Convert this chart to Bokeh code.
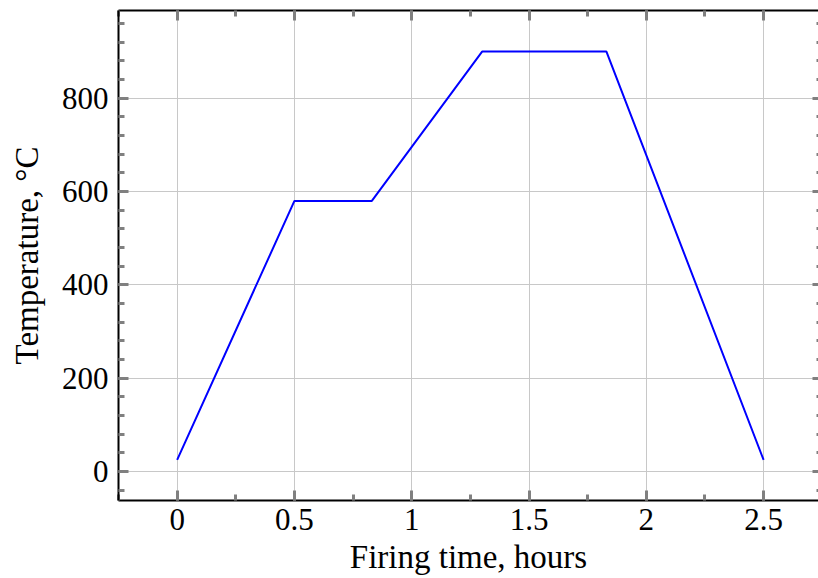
from bokeh.plotting import figure
from bokeh.models import LinearAxis, SingleIntervalTicker, CustomJSTickFormatter, Range1d
from bokeh.embed import file_html
from bokeh.resources import INLINE

# Kiln firing schedule: time in hours, temperature in degrees Celsius
time_h = [0.0, 0.5, 0.83, 1.3, 1.83, 2.5]
temp_c = [25, 580, 580, 900, 900, 25]

x_tick_interval = 0.5
y_tick_interval = 200

FONT = "Liberation Serif"
TICK_COLOR = "#808080"

p = figure(
    width=818, height=578,
    x_range=Range1d(-0.25, 2.734), y_range=Range1d(-62, 988),
    output_backend="svg", toolbar_location=None,
    x_axis_location=None, y_axis_location=None,
    min_border_left=118, min_border_right=0,
    min_border_top=10, min_border_bottom=78,
)
p.outline_line_color = None
p.background_fill_color = "white"
p.border_fill_color = "white"

xticker = SingleIntervalTicker(interval=x_tick_interval, num_minor_ticks=2)
yticker = SingleIntervalTicker(interval=y_tick_interval, num_minor_ticks=5)
fmt = CustomJSTickFormatter(code="return String(Math.round(tick * 100) / 100);")
blank = CustomJSTickFormatter(code="return '';")


def style_axis(ax, labels=True, line=True):
    ax.axis_line_color = "black" if line else None
    ax.axis_line_width = 2
    ax.major_tick_line_color = TICK_COLOR
    ax.minor_tick_line_color = TICK_COLOR
    ax.major_tick_line_width = 3
    ax.minor_tick_line_width = 3
    ax.major_tick_in = 10
    ax.major_tick_out = 0
    ax.minor_tick_in = 6
    ax.minor_tick_out = 0
    if labels:
        ax.major_label_text_font = FONT
        ax.major_label_text_font_size = "31px"
        ax.major_label_text_color = "black"
        ax.axis_label_text_font = FONT
        ax.axis_label_text_font_size = "33px"
        ax.axis_label_text_font_style = "normal"
        ax.axis_label_text_color = "black"
    else:
        ax.formatter = blank
        ax.major_label_standoff = 0


bottom = LinearAxis(ticker=xticker, formatter=fmt, axis_label="Firing time, hours")
style_axis(bottom)
bottom.major_label_standoff = 8
bottom.axis_label_standoff = 6
p.add_layout(bottom, "below")

left = LinearAxis(ticker=yticker, formatter=fmt, axis_label="Temperature, °C")
style_axis(left)
left.major_label_standoff = 10
left.axis_label_standoff = 14
p.add_layout(left, "left")

top = LinearAxis(ticker=xticker)
style_axis(top, labels=False)
p.add_layout(top, "above")

right = LinearAxis(ticker=yticker)
style_axis(right, labels=False, line=False)
right.major_tick_in = 6
right.minor_tick_in = 2
p.add_layout(right, "right")

p.xgrid.ticker = xticker
p.ygrid.ticker = yticker
p.grid.grid_line_color = "#c8c8c8"
p.grid.grid_line_width = 1

p.line(time_h, temp_c, line_color="#0000ff", line_width=2)

open("out.html", "w").write(file_html(p, INLINE))
